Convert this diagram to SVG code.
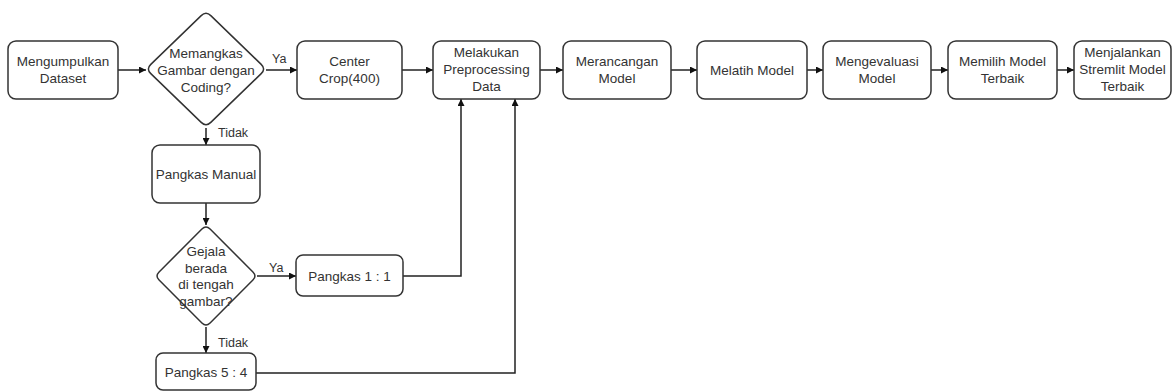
<svg xmlns="http://www.w3.org/2000/svg" width="1175" height="392" viewBox="0 0 1175 392">
<style>
.box{fill:#fff;stroke:#333;stroke-width:1.5}
.t{font-family:"Liberation Sans",Arial,sans-serif;font-size:13.5px;fill:#333;text-anchor:middle}
.lbl{font-family:"Liberation Sans",Arial,sans-serif;font-size:12.5px;fill:#333}
.c{fill:none;stroke:#222;stroke-width:1.5}
</style>
<defs>
<marker id="arr" viewBox="0 0 10 10" refX="10" refY="5" markerWidth="7" markerHeight="7" markerUnits="userSpaceOnUse" orient="auto">
<path d="M0,0 L10,5 L0,10 Z" fill="#111"/>
</marker>
</defs>
<rect width="1175" height="392" fill="#fff"/>
<g id="connectors">
<path class="c" marker-end="url(#arr)" d="M118,70 H146"/>
<path class="c" marker-end="url(#arr)" d="M266,70 H297"/>
<path class="c" marker-end="url(#arr)" d="M402,70 H433"/>
<path class="c" marker-end="url(#arr)" d="M540,70 H563"/>
<path class="c" marker-end="url(#arr)" d="M671,70 H697"/>
<path class="c" marker-end="url(#arr)" d="M807,70 H823"/>
<path class="c" marker-end="url(#arr)" d="M931,70 H948"/>
<path class="c" marker-end="url(#arr)" d="M1057,70 H1074"/>
<path class="c" marker-end="url(#arr)" d="M206,128 V145"/>
<path class="c" marker-end="url(#arr)" d="M206,203 V225"/>
<path class="c" marker-end="url(#arr)" d="M257,276 H296"/>
<path class="c" marker-end="url(#arr)" d="M206,327 V353"/>
<path class="c" marker-end="url(#arr)" d="M403,276 H461 V99"/>
<path class="c" marker-end="url(#arr)" d="M256,373 H515 V99"/>
<text class="lbl" x="272" y="63">Ya</text>
<text class="lbl" x="218" y="137">Tidak</text>
<text class="lbl" x="269" y="272">Ya</text>
<text class="lbl" x="218" y="347">Tidak</text>
</g>
<g id="n1"><rect class="box" x="8" y="41" width="110" height="58" rx="8"/>
<text class="t" x="63" y="66">Mengumpulkan</text><text class="t" x="63" y="83">Dataset</text></g>
<g id="d1"><path class="box" d="M201.2,15.64 Q206,11 210.8,15.64 L261.2,64.36 Q266,69 261.2,73.64 L210.8,122.36 Q206,127 201.2,122.36 L150.8,73.64 Q146,69 150.8,64.36 Z"/>
<text class="t" x="206" y="57.5">Memangkas</text><text class="t" x="206" y="74.5">Gambar dengan</text><text class="t" x="206" y="91.5">Coding?</text></g>
<g id="n2"><rect class="box" x="297" y="41" width="105" height="58" rx="8"/>
<text class="t" x="349.5" y="65.5">Center</text><text class="t" x="349.5" y="82.5">Crop(400)</text></g>
<g id="n3"><rect class="box" x="433" y="41" width="107" height="58" rx="8"/>
<text class="t" x="486.5" y="56.5">Melakukan</text><text class="t" x="486.5" y="73.5">Preprocessing</text><text class="t" x="486.5" y="90.5">Data</text></g>
<g id="n4"><rect class="box" x="563" y="41" width="108" height="58" rx="8"/>
<text class="t" x="617" y="65.5">Merancangan</text><text class="t" x="617" y="82.5">Model</text></g>
<g id="n5"><rect class="box" x="697" y="41" width="110" height="58" rx="8"/>
<text class="t" x="752" y="74.5">Melatih Model</text></g>
<g id="n6"><rect class="box" x="823" y="41" width="108" height="58" rx="8"/>
<text class="t" x="877" y="65.5">Mengevaluasi</text><text class="t" x="877" y="82.5">Model</text></g>
<g id="n7"><rect class="box" x="948" y="41" width="109" height="58" rx="8"/>
<text class="t" x="1002.5" y="65.5">Memilih Model</text><text class="t" x="1002.5" y="82.5">Terbaik</text></g>
<g id="n8"><rect class="box" x="1074" y="41" width="97" height="58" rx="8"/>
<text class="t" x="1122.5" y="56.5">Menjalankan</text><text class="t" x="1122.5" y="73.5">Stremlit Model</text><text class="t" x="1122.5" y="90.5">Terbaik</text></g>
<g id="n9"><rect class="box" x="152" y="145" width="108" height="58" rx="8"/>
<text class="t" x="206" y="178.5">Pangkas Manual</text></g>
<g id="d2"><path class="box" d="M201.92,229.08 Q206,225 210.08,229.08 L252.92,271.92 Q257,276 252.92,280.08 L210.08,322.92 Q206,327 201.92,322.92 L159.08,280.08 Q155,276 159.08,271.92 Z"/>
<text class="t" x="206" y="256">Gejala</text><text class="t" x="206" y="272.5">berada</text><text class="t" x="206" y="289">di tengah</text><text class="t" x="206" y="305.5">gambar?</text></g>
<g id="n10"><rect class="box" x="296" y="255" width="107" height="41" rx="7"/>
<text class="t" x="349.5" y="280.5">Pangkas 1 : 1</text></g>
<g id="n11"><rect class="box" x="156" y="353" width="100" height="37" rx="7"/>
<text class="t" x="206" y="376.5">Pangkas 5 : 4</text></g>
</svg>
